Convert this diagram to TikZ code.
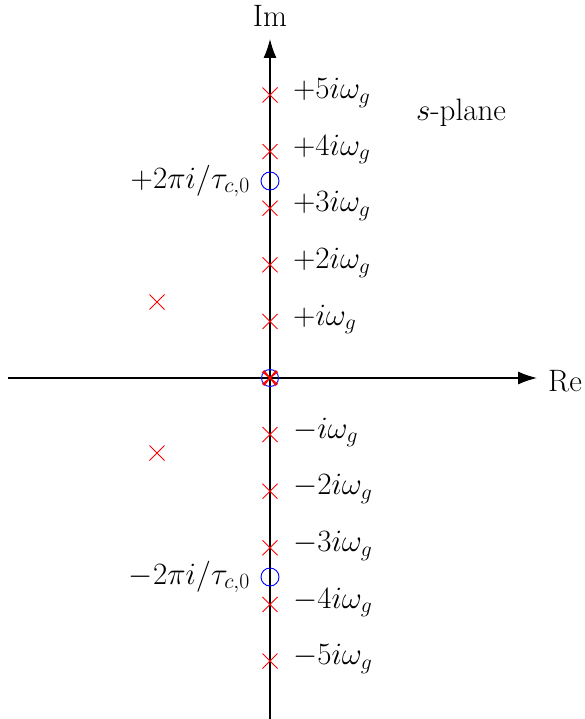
\RequirePackage{fix-cm}
\documentclass[tikz,border=0pt]{standalone}
\usetikzlibrary{arrows.meta,calc}
\begin{document}
\begin{tikzpicture}[x=1pt,y=-1pt,
  axis/.style={line width=1.3pt,-{Latex[length=19pt,width=13pt]}},
  pole/.style={red,line width=0.9pt},
  zero/.style={blue,line width=0.9pt},
  lbl/.style={font=\fontsize{31}{37}\selectfont,inner sep=0pt}]
\useasboundingbox (0,0) rectangle (585,719);
\coordinate (L) at (8,378);
\coordinate (R) at (537,378);
\coordinate (B) at (270,719);
\coordinate (T) at (270,39);
\draw[axis] (L) -- (R);
\draw[axis] (B) -- (T);
\node[lbl,anchor=west] (re) at (548,381) {Re};
\node[lbl,anchor=south] (im) at (270,27) {Im};
\node[lbl] (sp) at (461,113) {$s$-plane};
% poles on axis
\foreach \k/\t in {5/+5i\omega_g,4/+4i\omega_g,3/+3i\omega_g,2/+2i\omega_g,1/+i\omega_g,-1/-i\omega_g,-2/-2i\omega_g,-3/-3i\omega_g,-4/-4i\omega_g,-5/-5i\omega_g}{
  \coordinate (p\k) at (270,{378-56.6*\k});
  \draw[pole] ($(p\k)+(-7.5,-7.5)$) -- ($(p\k)+(7.5,7.5)$) ($(p\k)+(-7.5,7.5)$) -- ($(p\k)+(7.5,-7.5)$);
  \node[lbl,anchor=west] (t\k) at ($(p\k)+(23,-2)$) {$\t$};
}
% off-axis poles
\foreach \n/\y in {a/302,b/453}{
  \coordinate (q\n) at (157,\y);
  \draw[pole] ($(q\n)+(-7.5,-7.5)$) -- ($(q\n)+(7.5,7.5)$) ($(q\n)+(-7.5,7.5)$) -- ($(q\n)+(7.5,-7.5)$);
}
% origin
\coordinate (O) at (270,378);
\draw[zero] (O) circle (8.5);
\foreach \r in {-7,0,7}{
  \draw[pole,rotate around={\r:(O)}] ($(O)+(-7,-7)$) -- ($(O)+(7,7)$) ($(O)+(-7,7)$) -- ($(O)+(7,-7)$);
}
% zeros
\coordinate (z1) at (270,181);
\coordinate (z2) at (270,577);
\draw[zero] (z1) circle (9);
\draw[zero] (z2) circle (9);
\node[lbl,anchor=east] (zl1) at (250,181) {$+2\pi i/\tau_{c,0}$};
\node[lbl,anchor=east] (zl2) at (250,577) {$-2\pi i/\tau_{c,0}$};
\end{tikzpicture}
\end{document}
